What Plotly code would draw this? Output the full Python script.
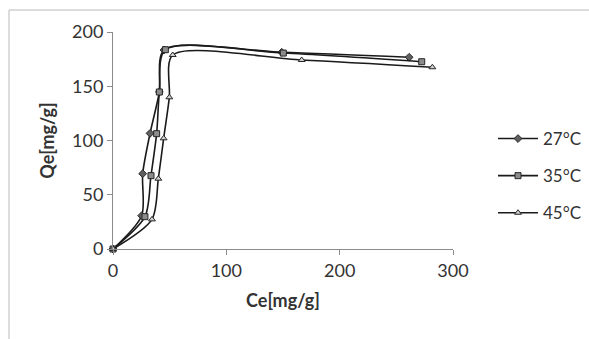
import plotly.graph_objects as go

# Adsorption isotherms: equilibrium concentration Ce vs uptake Qe
ce_27 = [0, 25.3, 26.2, 32.7, 40.9, 45.0, 148.9, 261.3]
qe_27 = [0, 30.7, 69.4, 106.6, 144.7, 183.4, 181.3, 176.7]

ce_35 = [0, 28.2, 33.5, 38.5, 40.9, 46.2, 150.3, 272.4]
qe_35 = [0, 29.8, 67.6, 106.3, 144.7, 183.7, 180.6, 172.6]

ce_45 = [0, 34.4, 40.0, 44.7, 49.7, 52.7, 166.5, 281.8]
qe_45 = [0, 27.3, 64.8, 102.0, 139.8, 178.8, 174.2, 167.5]

series = [
    ("27°C", ce_27, qe_27, "diamond", "#5f5f5f"),
    ("35°C", ce_35, qe_35, "square", "#8c8c8c"),
    ("45°C", ce_45, qe_45, "triangle-up", "#d0d0d0"),
]

x_ticks = [0, 100, 200, 300]
y_ticks = [0, 50, 100, 150, 200]

FONT = "Lato, 'Open Sans', sans-serif"
W, H = 589, 339
L, R, T, B = 113, 136, 32, 90

fig = go.Figure()
for i, (name, xs, ys, sym, fill) in enumerate(series):
    fig.add_trace(go.Scatter(
        x=xs, y=ys, name=name, mode="lines+markers",
        line=dict(color="#1a1a1a", width=1.6, shape="spline", smoothing=0.8),
        marker=dict(symbol=sym, size=6, color=fill,
                    line=dict(color="#262626", width=1)),
        legendgroup=f"g{i}", cliponaxis=False,
    ))

axis_common = dict(
    showgrid=False, zeroline=False, showline=True,
    linecolor="#8c8c8c", linewidth=1,
    ticks="outside", ticklen=5, tickcolor="#8c8c8c",
    tickfont=dict(family=FONT, size=18, color="#333333"),
)

fig.update_xaxes(range=[0, 300], tickvals=x_ticks,
                 title=dict(text="<b>Ce[mg/g]</b>", standoff=14,
                            font=dict(family=FONT, size=18, color="#333333")),
                 **axis_common)
fig.update_yaxes(range=[0, 200], tickvals=y_ticks,
                 title=dict(text="<b>Qe[mg/g]</b>", standoff=12,
                            font=dict(family=FONT, size=18, color="#333333")),
                 **axis_common)

# chart-area frame (visible along the top and left edges)
pw, ph = W - L - R, H - T - B
x_left = (9 - L) / pw
y_top = (H - B - 10) / ph
fig.add_shape(type="line", xref="paper", yref="paper",
              x0=x_left, x1=x_left, y0=-B / ph - 0.05, y1=y_top,
              line=dict(color="#d0d0d0", width=1.5))
fig.add_shape(type="line", xref="paper", yref="paper",
              x0=x_left, x1=(W - L) / pw + 0.05, y0=y_top, y1=y_top,
              line=dict(color="#d0d0d0", width=1.5))

fig.update_layout(
    width=W, height=H,
    margin=dict(l=L, r=R, t=T, b=B, autoexpand=False),
    paper_bgcolor="white", plot_bgcolor="white",
    showlegend=True,
    legend=dict(x=(493 - L) / pw, y=(H - B - 176) / ph,
                xanchor="left", yanchor="middle", itemwidth=40,
                font=dict(family=FONT, size=17, color="#333333"),
                tracegroupgap=12, bgcolor="rgba(0,0,0,0)"),
)

fig.write_html("out.html")
